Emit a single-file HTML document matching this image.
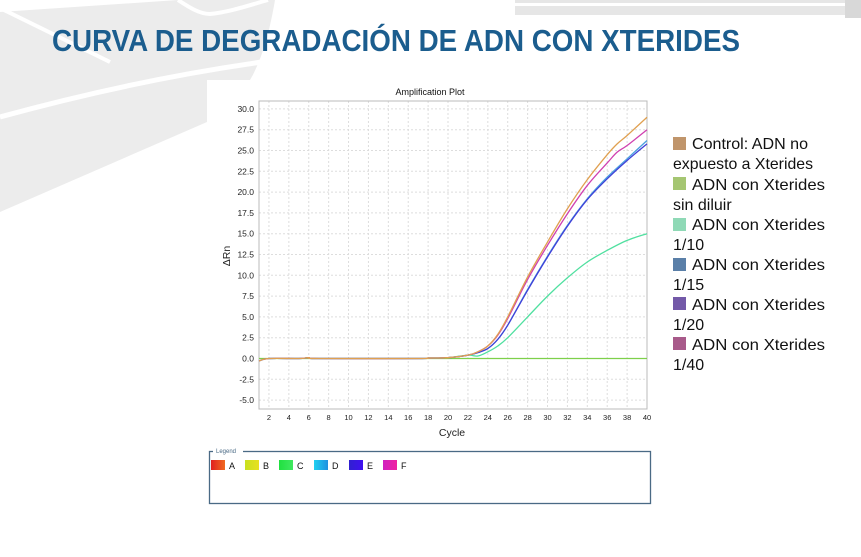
<!DOCTYPE html>
<html><head><meta charset="utf-8"><style>
html,body{margin:0;padding:0;background:#fff;}
svg{display:block;font-family:"Liberation Sans",Arial,sans-serif;}
</style></head><body>
<svg id="s" width="861" height="557" viewBox="0 0 861 557" xmlns="http://www.w3.org/2000/svg">
<!-- background swooshes -->
<path d="M0,12 L178,0 L275,0 C270,30 262,60 250,80 L207,80 L207,122 L0,212 Z" fill="#ececec"/>
<path d="M0,8 L110,62" stroke="#fff" stroke-width="4" fill="none"/>
<path d="M0,117 C80,95 170,75 262,62" stroke="#fff" stroke-width="5" fill="none"/>
<path d="M178,0 C190,8 200,14 210,14 C230,12 250,5 268,0" stroke="#fff" stroke-width="4" fill="none"/>
<rect x="515" y="0" width="346" height="15" fill="#e6e6e6"/>
<rect x="515" y="3" width="330" height="3" fill="#fff"/>
<rect x="845" y="0" width="16" height="18" fill="#d8d8d8"/>
<text x="52" y="51" font-size="31" font-weight="bold" fill="#1b5d8e" textLength="688" lengthAdjust="spacingAndGlyphs">CURVA DE DEGRADACIÓN DE ADN CON XTERIDES</text>
<!-- chart image -->
<rect x="207" y="80" width="450" height="362" fill="#fff"/>
<text x="430" y="95" font-size="9" text-anchor="middle" fill="#111">Amplification Plot</text>
<g id="grid"></g>
<rect x="259" y="101" width="388" height="308" fill="none" stroke="#bbb" stroke-width="1"/>
<g id="ticks" font-size="8.5" fill="#222"></g>
<text x="452" y="436" font-size="10.5" text-anchor="middle" fill="#222">Cycle</text>
<text transform="translate(230,256) rotate(-90)" font-size="10.5" text-anchor="middle" fill="#222">ΔRn</text>
<g id="curves" fill="none" stroke-width="1.3"></g>
<!-- bottom legend -->
<rect x="209.5" y="451.5" width="441" height="52" fill="none" stroke="#4a6a85" stroke-width="1.3"/>
<rect x="213" y="448" width="30" height="7" fill="#fff"/>
<text x="216" y="453" font-size="6" fill="#4a6a85">Legend</text>
<defs>
<linearGradient id="gA"><stop offset="0" stop-color="#e02020"/><stop offset="1" stop-color="#f06a20"/></linearGradient>
<linearGradient id="gB"><stop offset="0" stop-color="#c8e020"/><stop offset="1" stop-color="#e8e020"/></linearGradient>
<linearGradient id="gC"><stop offset="0" stop-color="#20e040"/><stop offset="1" stop-color="#40e860"/></linearGradient>
<linearGradient id="gD"><stop offset="0" stop-color="#20d0f0"/><stop offset="1" stop-color="#2090e0"/></linearGradient>
<linearGradient id="gE"><stop offset="0" stop-color="#3020d0"/><stop offset="1" stop-color="#4010f0"/></linearGradient>
<linearGradient id="gF"><stop offset="0" stop-color="#d020c0"/><stop offset="1" stop-color="#f020a0"/></linearGradient>
</defs>
<g font-size="9" fill="#111">
<rect x="211" y="460" width="14" height="10" fill="url(#gA)"/><text x="229" y="469">A</text>
<rect x="245" y="460" width="14" height="10" fill="url(#gB)"/><text x="263" y="469">B</text>
<rect x="279" y="460" width="14" height="10" fill="url(#gC)"/><text x="297" y="469">C</text>
<rect x="314" y="460" width="14" height="10" fill="url(#gD)"/><text x="332" y="469">D</text>
<rect x="349" y="460" width="14" height="10" fill="url(#gE)"/><text x="367" y="469">E</text>
<rect x="383" y="460" width="14" height="10" fill="url(#gF)"/><text x="401" y="469">F</text>
</g>
<!-- right legend -->
<g font-size="16" fill="#111">
<rect x="673" y="137" width="13" height="13" fill="#c0956b"/><text x="692" y="149" textLength="116" lengthAdjust="spacingAndGlyphs">Control: ADN no</text>
<text x="673" y="169" textLength="140" lengthAdjust="spacingAndGlyphs">expuesto a Xterides</text>
<rect x="673" y="177" width="13" height="13" fill="#a5c672"/><text x="692" y="190" textLength="133" lengthAdjust="spacingAndGlyphs">ADN con Xterides</text>
<text x="673" y="210">sin diluir</text>
<rect x="673" y="218" width="13" height="13" fill="#8fd9b6"/><text x="692" y="230" textLength="133" lengthAdjust="spacingAndGlyphs">ADN con Xterides</text>
<text x="673" y="250">1/10</text>
<rect x="673" y="258" width="13" height="13" fill="#5a7fa8"/><text x="692" y="270" textLength="133" lengthAdjust="spacingAndGlyphs">ADN con Xterides</text>
<text x="673" y="290">1/15</text>
<rect x="673" y="297" width="13" height="13" fill="#7359a8"/><text x="692" y="310" textLength="133" lengthAdjust="spacingAndGlyphs">ADN con Xterides</text>
<text x="673" y="330">1/20</text>
<rect x="673" y="337" width="13" height="13" fill="#a85a8a"/><text x="692" y="350" textLength="133" lengthAdjust="spacingAndGlyphs">ADN con Xterides</text>
<text x="673" y="370">1/40</text>
</g>
</svg>
<script>
(function(){
var NS="http://www.w3.org/2000/svg";
function X(c){return 259+(c-1)*(388/39);}
function Y(v){return 358.5-v*(20.8/2.5);}
var g=document.getElementById('grid'),t=document.getElementById('ticks'),cv=document.getElementById('curves');
function el(n,a,p){var e=document.createElementNS(NS,n);for(var k in a)e.setAttribute(k,a[k]);p.appendChild(e);return e;}
for(var c=2;c<=40;c+=2){var x=X(c);el('line',{x1:x,x2:x,y1:101,y2:409,stroke:'#ddd','stroke-dasharray':'2,2'},g);
 var tx=el('text',{x:x,y:420,'text-anchor':'middle','font-size':'7.5'},t);tx.textContent=c;}
for(var v=-5;v<=30;v+=2.5){var y=Y(v);el('line',{x1:259,x2:647,y1:y,y2:y,stroke:'#ddd','stroke-dasharray':'2,2'},g);
 var ty=el('text',{x:254,y:y+3,'text-anchor':'end'},t);ty.textContent=v.toFixed(1);}
function path(pts,col){
 var P=pts.map(function(p){return [X(p[0]),Y(p[1])];});
 var d='M'+P[0][0]+','+P[0][1];
 for(var i=0;i<P.length-1;i++){var p0=P[i-1]||P[i],p1=P[i],p2=P[i+1],p3=P[i+2]||p2;
  d+=' C'+(p1[0]+(p2[0]-p0[0])/6)+','+(p1[1]+(p2[1]-p0[1])/6)+' '+(p2[0]-(p3[0]-p1[0])/6)+','+(p2[1]-(p3[1]-p1[1])/6)+' '+p2[0]+','+p2[1];}
 el('path',{d:d,stroke:col},cv);}
var base=[[1,-0.3],[2,0],[5,0],[6,0.1],[7,0],[17,0],[18,0.05],[20,0.1],[22,0.4]];
path([[1,0],[40,0]],'#7ed04a');
path(base.concat([[23,0.7],[24,1.2],[25,2.3],[26,4],[28,8.3],[30,12.3],[32,16],[34,19.2],[36,21.8],[38,24],[40,26.2]]),'#4aa0e0');
path(base.concat([[23,0.7],[24,1.2],[25,2.3],[26,4],[28,8.2],[30,12.2],[32,15.9],[34,19.1],[36,21.6],[38,23.8],[40,25.8]]),'#4040d8');
path(base.concat([[23,0.3],[24,0.8],[25,1.5],[26,2.5],[28,5],[30,7.5],[32,9.7],[34,11.6],[36,13],[38,14.2],[40,15]]),'#50e0a0');
path(base.concat([[23,0.8],[24,1.5],[25,2.8],[26,4.8],[28,9.5],[30,13.6],[32,17.4],[34,20.8],[36,23.5],[37,24.8],[38,25.6],[40,27.5]]),'#d040b0');
path(base.concat([[23,0.8],[24,1.5],[25,2.9],[26,5],[28,9.8],[30,14],[32,18],[34,21.5],[36,24.5],[37,25.8],[38,26.8],[40,29]]),'#e0a050');
})();
</script>
</body></html>
